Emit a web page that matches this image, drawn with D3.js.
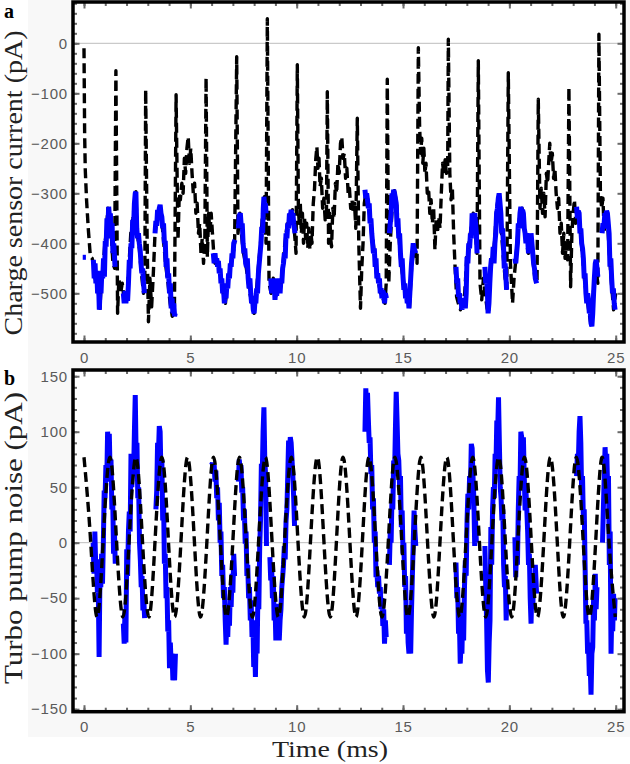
<!DOCTYPE html>
<html><head><meta charset="utf-8">
<script src="https://cdn.jsdelivr.net/npm/d3@7"></script>
<style>html,body{margin:0;padding:0;background:#fff}svg{display:block}</style>
</head><body>
<svg id="c" width="630" height="764"></svg>
<script>
// ---------- DATA ----------
const xTickLabels = [0, 5, 10, 15, 20, 25];
const topTickLabels = [0, -100, -200, -300, -400, -500];
const botTickLabels = [150, 100, 50, 0, -50, -100, -150];

// panel a: charge sensor current (pA), dashed black trace
const chargeTrace = [[0.00,-10],[0.03,-180],[0.06,-253],[0.12,-313],[0.2,-370],[0.3,-427],[0.38,-430],[0.45,-440],[0.52,-470],[0.6,-480],[0.68,-500],[0.75,-530],[0.82,-470],[0.9,-450],[0.98,-400],[1.05,-380],[1.12,-330],[1.2,-340],[1.28,-380],[1.36,-440],[1.44,-450],[1.5,-55],[1.58,-540],[1.64,-470],[1.72,-500],[1.8,-480],[1.88,-510],[1.96,-520],[2.04,-500],[2.12,-440],[2.2,-380],[2.3,-350],[2.38,-320],[2.44,-297],[2.5,-380],[2.6,-410],[2.7,-460],[2.8,-500],[2.86,-470],[2.9,-93],[2.97,-400],[3.03,-557],[3.1,-470],[3.18,-527],[3.26,-460],[3.34,-380],[3.42,-350],[3.5,-340],[3.57,-323],[3.65,-350],[3.75,-400],[3.85,-447],[3.95,-480],[4.05,-520],[4.15,-546],[4.25,-540],[4.33,-103],[4.38,-273],[4.42,-393],[4.48,-300],[4.53,-313],[4.6,-280],[4.66,-300],[4.72,-230],[4.78,-260],[4.84,-210],[4.9,-187],[4.96,-240],[5.02,-210],[5.08,-260],[5.14,-300],[5.2,-280],[5.26,-340],[5.32,-320],[5.38,-380],[5.44,-360],[5.5,-420],[5.56,-390],[5.62,-440],[5.68,-400],[5.74,-69],[5.8,-427],[5.86,-340],[5.92,-380],[5.98,-340],[6.04,-380],[6.1,-420],[6.16,-440],[6.25,-430],[6.35,-447],[6.45,-470],[6.55,-500],[6.65,-520],[6.72,-490],[6.8,-470],[6.9,-440],[7.0,-420],[7.08,-407],[7.18,-27],[7.24,-380],[7.33,-340],[7.4,-380],[7.5,-420],[7.6,-440],[7.7,-470],[7.8,-500],[7.9,-520],[8.0,-540],[8.1,-500],[8.2,-447],[8.3,-400],[8.4,-340],[8.48,-307],[8.56,-400],[8.62,49],[8.7,-480],[8.8,-500],[8.9,-470],[9.0,-510],[9.1,-490],[9.2,-500],[9.3,-470],[9.4,-420],[9.5,-380],[9.6,-350],[9.7,-340],[9.8,-333],[9.9,-380],[9.97,-420],[10.03,-43],[10.08,-330],[10.12,-360],[10.17,-320],[10.22,-380],[10.27,-340],[10.32,-400],[10.37,-350],[10.42,-390],[10.47,-360],[10.52,-410],[10.57,-370],[10.62,-413],[10.67,-380],[10.72,-400],[10.78,-320],[10.84,-290],[10.9,-230],[10.95,-207],[11.0,-250],[11.05,-230],[11.1,-287],[11.16,-270],[11.22,-330],[11.28,-310],[11.34,-353],[11.4,-340],[11.44,-97],[11.5,-400],[11.55,-340],[11.6,-390],[11.64,-407],[11.7,-330],[11.76,-350],[11.82,-280],[11.88,-300],[11.94,-240],[12.0,-260],[12.06,-200],[12.12,-187],[12.18,-230],[12.24,-220],[12.3,-270],[12.36,-250],[12.42,-300],[12.48,-290],[12.54,-330],[12.6,-313],[12.66,-340],[12.72,-320],[12.78,-370],[12.85,-150],[12.92,-400],[13.0,-530],[13.06,-450],[13.12,-400],[13.18,-320],[13.25,-300],[13.35,-313],[13.45,-350],[13.55,-380],[13.65,-420],[13.75,-460],[13.85,-480],[13.95,-500],[14.05,-510],[14.15,-520],[14.21,-480],[14.26,-72],[14.33,-480],[14.4,-400],[14.5,-320],[14.6,-295],[14.7,-320],[14.8,-380],[14.9,-440],[15.0,-470],[15.1,-500],[15.2,-510],[15.3,-530],[15.4,-450],[15.5,-410],[15.6,-420],[15.66,-440],[15.72,-9],[15.78,-167],[15.83,-220],[15.88,-190],[15.93,-240],[15.98,-210],[16.03,-260],[16.08,-240],[16.14,-300],[16.2,-290],[16.26,-340],[16.32,-313],[16.38,-360],[16.44,-330],[16.5,-413],[16.56,-350],[16.62,-380],[16.68,-347],[16.74,-370],[16.8,-300],[16.86,-240],[16.92,-260],[16.98,-233],[17.04,-260],[17.1,-250],[17.13,8],[17.2,-260],[17.26,-313],[17.32,-290],[17.38,-380],[17.45,-450],[17.52,-507],[17.6,-520],[17.7,-533],[17.8,-520],[17.9,-500],[18.0,-427],[18.1,-400],[18.2,-370],[18.3,-340],[18.4,-380],[18.48,-420],[18.54,-35],[18.62,-480],[18.7,-513],[18.78,-470],[18.86,-500],[18.95,-530],[19.02,-540],[19.1,-450],[19.2,-430],[19.3,-400],[19.4,-330],[19.52,-300],[19.6,-360],[19.7,-420],[19.8,-470],[19.88,-490],[19.95,-59],[20.05,-440],[20.15,-520],[20.22,-470],[20.3,-435],[20.4,-380],[20.5,-340],[20.6,-330],[20.7,-370],[20.8,-400],[20.9,-420],[21.0,-400],[21.1,-430],[21.2,-470],[21.3,-480],[21.36,-112],[21.44,-330],[21.5,-290],[21.56,-340],[21.62,-300],[21.68,-347],[21.74,-260],[21.8,-280],[21.86,-230],[21.9,-200],[21.96,-240],[22.02,-220],[22.08,-270],[22.14,-250],[22.2,-300],[22.26,-330],[22.32,-310],[22.38,-380],[22.44,-360],[22.5,-420],[22.56,-380],[22.62,-430],[22.68,-400],[22.74,-433],[22.8,-88],[22.88,-487],[22.94,-380],[23.0,-340],[23.06,-313],[23.12,-360],[23.18,-340],[23.25,-350],[23.35,-380],[23.45,-430],[23.55,-480],[23.65,-510],[23.75,-540],[23.85,-566],[23.95,-500],[24.05,-450],[24.12,-467],[24.16,-480],[24.21,18],[24.28,-300],[24.34,-330],[24.4,-310],[24.46,-380],[24.52,-350],[24.6,-345],[24.7,-420],[24.8,-480],[24.9,-533],[25.0,-500]];

// panel a: blue segments
const chargeBlue = [
 [[-0.06,-428],[0.09,-428]],
 [[0.44,-433],[0.48,-470],[0.52,-440],[0.56,-480],[0.6,-455],[0.64,-500],[0.68,-470],[0.72,-533],[0.76,-490],[0.8,-500],[0.84,-455],[0.88,-470],[0.92,-430],[0.96,-467],[1.0,-395],[1.04,-407],[1.08,-350],[1.12,-370],[1.16,-327],[1.2,-350],[1.24,-340],[1.28,-390],[1.32,-360],[1.36,-420],[1.4,-400],[1.46,-447]],
 [[1.85,-500],[1.89,-520],[1.93,-495],[1.97,-520],[2.01,-500],[2.05,-515],[2.09,-480],[2.13,-433],[2.17,-450],[2.21,-400],[2.25,-410],[2.29,-353],[2.33,-370],[2.37,-320],[2.41,-300],[2.44,-297],[2.48,-370],[2.52,-390],[2.56,-380],[2.6,-400],[2.64,-413],[2.68,-440],[2.72,-460],[2.76,-450],[2.8,-480],[2.84,-500]],
 [[3.34,-380],[3.38,-355],[3.42,-365],[3.46,-333],[3.5,-345],[3.54,-330],[3.58,-323],[3.62,-340],[3.66,-347],[3.7,-370],[3.74,-360],[3.78,-400],[3.82,-395],[3.86,-447],[3.9,-430],[3.94,-470],[3.98,-460],[4.02,-500],[4.06,-480],[4.1,-530],[4.14,-510],[4.18,-540],[4.22,-520],[4.26,-546],[4.29,-540]],
 [[6.08,-420],[6.12,-440],[6.16,-420],[6.2,-440],[6.24,-430],[6.28,-447],[6.32,-435],[6.36,-460],[6.4,-450],[6.44,-480],[6.48,-470],[6.52,-500],[6.56,-490],[6.6,-520],[6.64,-500],[6.68,-510],[6.72,-480],[6.76,-490],[6.8,-460],[6.84,-470],[6.88,-440],[6.92,-447],[6.96,-420],[7.0,-430],[7.04,-400],[7.1,-393]],
 [[7.26,-370],[7.3,-345],[7.35,-340],[7.4,-370],[7.44,-360],[7.48,-400],[7.52,-420],[7.56,-410],[7.6,-440],[7.64,-447],[7.68,-430],[7.72,-470],[7.76,-490],[7.8,-470],[7.84,-500],[7.88,-520],[7.92,-505],[7.96,-533],[8.0,-540],[8.04,-515],[8.08,-520],[8.12,-490],[8.16,-500],[8.2,-460],[8.24,-440],[8.28,-420],[8.32,-400],[8.36,-367],[8.4,-380],[8.43,-330],[8.46,-307],[8.5,-330],[8.53,-320],[8.56,-340]],
 [[8.78,-470],[8.82,-500],[8.86,-480],[8.9,-495],[8.94,-470],[8.98,-513],[9.02,-490],[9.06,-505],[9.1,-480],[9.14,-495],[9.18,-470],[9.22,-500],[9.26,-470],[9.3,-480],[9.34,-450],[9.38,-440],[9.42,-420],[9.46,-430],[9.5,-380],[9.54,-390],[9.58,-360],[9.62,-370],[9.66,-340],[9.7,-350],[9.74,-333],[9.78,-345],[9.82,-340],[9.86,-360],[9.92,-380]],
 [[13.21,-293],[13.25,-310],[13.29,-300],[13.33,-313],[13.37,-330],[13.41,-320],[13.45,-360],[13.49,-350],[13.53,-380],[13.57,-400],[13.61,-420],[13.65,-410],[13.69,-447],[13.73,-430],[13.77,-470],[13.81,-460],[13.85,-480],[13.89,-470],[13.93,-500],[13.97,-490],[14.01,-510],[14.05,-495],[14.09,-500],[14.13,-520],[14.17,-500],[14.22,-510]],
 [[14.36,-380],[14.4,-360],[14.44,-340],[14.48,-300],[14.52,-310],[14.56,-293],[14.6,-300],[14.64,-310],[14.68,-320],[14.72,-367],[14.76,-350],[14.8,-390],[14.84,-380],[14.88,-420],[14.92,-447],[14.96,-430],[15.0,-467],[15.04,-493],[15.08,-480],[15.12,-510],[15.16,-500],[15.2,-520],[15.24,-505],[15.28,-530],[15.32,-500],[15.36,-470],[15.4,-440],[15.44,-420],[15.48,-400],[15.52,-410],[15.6,-420]],
 [[17.49,-447],[17.53,-480],[17.57,-470],[17.61,-507],[17.65,-500],[17.69,-520],[17.73,-513],[17.77,-533],[17.81,-520],[17.85,-530],[17.89,-510],[17.93,-530],[17.97,-500],[18.01,-427],[18.05,-440],[18.09,-400],[18.13,-410],[18.17,-380],[18.21,-390],[18.25,-340],[18.29,-350],[18.33,-345],[18.37,-340],[18.41,-360],[18.45,-380],[18.48,-420]],
 [[18.85,-447],[18.89,-480],[18.93,-470],[18.97,-500],[19.0,-540],[19.04,-520],[19.08,-480],[19.12,-447],[19.16,-430],[19.2,-440],[19.24,-407],[19.28,-440],[19.32,-400],[19.36,-380],[19.4,-340],[19.44,-330],[19.48,-310],[19.52,-300],[19.56,-320],[19.6,-340],[19.64,-380],[19.68,-370],[19.72,-400],[19.76,-450],[19.8,-440],[19.84,-470],[19.87,-493]],
 [[20.26,-430],[20.3,-440],[20.34,-420],[20.38,-400],[20.42,-360],[20.46,-370],[20.5,-340],[20.54,-327],[20.58,-340],[20.62,-333],[20.66,-340],[20.7,-370],[20.74,-380],[20.78,-400],[20.82,-380],[20.86,-390],[20.9,-420],[20.94,-400],[20.98,-410],[21.02,-380],[21.06,-400],[21.1,-420],[21.14,-440],[21.18,-450],[21.22,-470],[21.28,-480]],
 [[23.16,-327],[23.2,-350],[23.24,-335],[23.28,-340],[23.32,-380],[23.36,-370],[23.4,-400],[23.44,-410],[23.48,-430],[23.52,-470],[23.56,-460],[23.6,-500],[23.64,-520],[23.68,-500],[23.72,-513],[23.76,-540],[23.8,-530],[23.84,-560],[23.88,-566],[23.92,-540],[23.96,-500],[24.0,-467],[24.04,-440],[24.08,-433],[24.12,-450],[24.16,-467]],
 [[24.36,-380],[24.4,-360],[24.44,-370],[24.49,-340],[24.53,-345],[24.57,-335],[24.61,-340],[24.65,-360],[24.69,-380],[24.73,-447],[24.77,-430],[24.81,-470],[24.85,-500],[24.89,-490],[24.93,-520],[24.97,-533]]
];

// panel b: turbo pump noise fit (dashed), read at peaks / crossings / troughs
const pumpFit = [[0,77],[0.30,5],[0.61,-67],[0.91,5],[1.22,77],[1.52,5],[1.83,-67],[2.13,5],[2.44,77],[2.74,5],[3.05,-67],[3.35,5],[3.66,77],[3.96,5],[4.26,-67],[4.57,5],[4.87,77],[5.18,5],[5.48,-67],[5.79,5],[6.09,77],[6.40,5],[6.70,-67],[7.01,5],[7.31,77],[7.62,5],[7.92,-67],[8.22,5],[8.53,77],[8.83,5],[9.14,-67],[9.44,5],[9.75,77],[10.05,5],[10.36,-67],[10.66,5],[10.97,77],[11.27,5],[11.58,-67],[11.88,5],[12.18,77],[12.49,5],[12.79,-67],[13.10,5],[13.40,77],[13.71,5],[14.01,-67],[14.32,5],[14.62,77],[14.93,5],[15.23,-67],[15.54,5],[15.84,77],[16.14,5],[16.45,-67],[16.75,5],[17.06,77],[17.36,5],[17.67,-67],[17.97,5],[18.28,77],[18.58,5],[18.89,-67],[19.19,5],[19.50,77],[19.80,5],[20.11,-67],[20.41,5],[20.71,77],[21.02,5],[21.32,-67],[21.63,5],[21.93,77],[22.24,5],[22.54,-67],[22.85,5],[23.15,77],[23.46,5],[23.76,-67],[24.07,5],[24.37,77],[24.67,5],[24.98,-67]];

// panel b: measured noise, blue segments
const pumpBlue = [
 [[0.43,0],[0.47,-28],[0.51,10],[0.55,-20],[0.59,-15],[0.63,-45],[0.67,-40],[0.71,-103],[0.75,-30],[0.79,-40],[0.83,-10],[0.87,-37],[0.91,0],[0.95,47],[0.99,40],[1.03,70],[1.07,55],[1.11,100],[1.15,85],[1.19,98],[1.23,60],[1.27,75],[1.31,30],[1.35,40],[1.39,-10],[1.43,10],[1.47,-19]],
 [[1.85,-73],[1.89,-91],[1.93,-60],[1.97,-90],[2.01,-6],[2.05,-30],[2.09,10],[2.13,28],[2.17,10],[2.21,80],[2.25,50],[2.29,80],[2.33,60],[2.37,100],[2.41,133],[2.45,80],[2.49,90],[2.53,40],[2.57,50],[2.61,0],[2.65,-16],[2.69,-40],[2.73,-30],[2.77,-61],[2.81,-50],[2.85,-68]],
 [[3.38,30],[3.42,47],[3.46,90],[3.5,80],[3.54,105],[3.58,100],[3.62,60],[3.66,75],[3.7,20],[3.74,40],[3.78,-19],[3.82,-10],[3.86,-50],[3.9,-40],[3.94,-80],[3.98,-70],[4.02,-113],[4.06,-90],[4.1,-110],[4.14,-100],[4.18,-124],[4.22,-110],[4.26,-124],[4.3,-100]],
 [[6.0,70],[6.04,72],[6.08,62],[6.12,70],[6.16,55],[6.2,65],[6.24,40],[6.28,50],[6.32,20],[6.36,36],[6.4,0],[6.44,10],[6.48,-30],[6.52,-20],[6.56,-50],[6.6,-40],[6.64,-70],[6.68,-92],[6.72,-60],[6.76,-85],[6.8,-55],[6.84,-75],[6.88,-40],[6.92,-58],[6.96,-28],[7.0,-45],[7.04,-10],[7.08,-30]],
 [[7.26,55],[7.3,75],[7.34,65],[7.38,70],[7.42,45],[7.46,50],[7.5,20],[7.54,30],[7.58,-1],[7.62,10],[7.66,-30],[7.7,-20],[7.74,-50],[7.78,-40],[7.82,-70],[7.86,-52],[7.9,-85],[7.94,-70],[7.98,-112],[8.02,-90],[8.06,-121],[8.1,-80],[8.14,-100],[8.18,-40],[8.22,-60],[8.26,-5],[8.3,20],[8.34,71],[8.38,60],[8.42,100],[8.46,122],[8.5,75],[8.54,60],[8.58,-3]],
 [[8.74,-13],[8.78,-34],[8.82,-20],[8.86,-50],[8.9,-30],[8.94,-70],[8.98,-55],[9.02,-88],[9.06,-60],[9.1,-80],[9.14,-55],[9.18,-88],[9.22,-70],[9.26,-60],[9.3,-40],[9.34,-31],[9.38,-20],[9.42,-3],[9.46,-15],[9.5,20],[9.54,30],[9.58,60],[9.62,92],[9.66,80],[9.7,95],[9.74,90],[9.78,75],[9.82,60],[9.86,40],[9.9,15]],
 [[13.21,100],[13.25,139],[13.29,120],[13.33,135],[13.37,111],[13.41,90],[13.45,95],[13.49,62],[13.53,70],[13.57,30],[13.61,40],[13.65,0],[13.69,10],[13.73,-31],[13.77,-25],[13.81,-40],[13.85,-30],[13.89,-46],[13.93,-40],[13.97,-60],[14.01,-50],[14.05,-75],[14.09,-60],[14.13,-91],[14.17,-70],[14.21,-85]],
 [[14.36,-20],[14.4,10],[14.44,0],[14.48,40],[14.52,30],[14.56,74],[14.6,60],[14.64,100],[14.68,136],[14.72,110],[14.76,80],[14.8,74],[14.84,50],[14.88,60],[14.92,14],[14.96,29],[15.0,-10],[15.04,0],[15.08,-40],[15.12,-30],[15.16,-82],[15.2,-60],[15.24,-90],[15.28,-100],[15.32,-80],[15.36,-100],[15.4,-60],[15.44,-30],[15.48,0],[15.52,29],[15.56,10],[15.6,-3]],
 [[17.49,-18],[17.53,-50],[17.57,-40],[17.61,-82],[17.65,-70],[17.69,-109],[17.73,-90],[17.77,-100],[17.81,-60],[17.85,-88],[17.89,-40],[17.93,-16],[17.97,-30],[18.01,20],[18.05,44],[18.09,30],[18.13,60],[18.17,50],[18.21,89],[18.25,85],[18.29,60],[18.33,40],[18.37,-3],[18.41,20],[18.45,0]],
 [[18.85,-3],[18.89,-40],[18.93,-70],[18.97,-115],[19.01,-126],[19.05,-90],[19.09,-70],[19.13,14],[19.17,-20],[19.21,30],[19.25,50],[19.29,40],[19.33,80],[19.37,70],[19.41,110],[19.45,100],[19.49,131],[19.53,90],[19.57,50],[19.61,40],[19.65,20],[19.69,30],[19.73,-20],[19.77,-40],[19.81,-30],[19.85,-70],[19.87,-55]],
 [[20.26,5],[20.3,-31],[20.34,0],[20.38,-20],[20.42,30],[20.46,60],[20.5,50],[20.54,100],[20.58,95],[20.62,80],[20.66,95],[20.7,60],[20.74,29],[20.78,47],[20.82,30],[20.86,10],[20.9,-20],[20.94,-10],[20.98,-50],[21.02,-73],[21.06,-40],[21.1,-60],[21.14,-30],[21.18,-46],[21.22,-20],[21.28,-46]],
 [[23.16,60],[23.2,80],[23.24,70],[23.28,100],[23.32,114],[23.36,90],[23.4,44],[23.44,60],[23.48,20],[23.52,30],[23.56,-20],[23.6,-73],[23.64,-70],[23.68,-100],[23.72,-90],[23.76,-120],[23.8,-110],[23.84,-137],[23.88,-100],[23.92,-94],[23.96,-50],[24.0,-70],[24.04,-28],[24.08,-60],[24.12,-40]],
 [[24.38,0],[24.42,30],[24.46,60],[24.5,86],[24.54,70],[24.58,80],[24.62,50],[24.66,60],[24.7,-20],[24.74,10],[24.78,-100],[24.82,-60],[24.86,-80],[24.9,-46],[24.94,-70],[24.97,-50]]
];

// ---------- DRAW ----------
const svg = d3.select("#c");
const fmt = d => (d < 0 ? "\u2212" + Math.abs(d) : String(d));
const L = 73, R = 624;
const x = d3.scaleLinear().domain([-0.517, 25.39]).range([L, R]);
const panels = [
  {key:"a", top:2, bottom:342, y:d3.scaleLinear().domain([-597.4, 82.6]).range([342, 2]),
   labels: topTickLabels, minor: d3.range(-580, 81, 20), major: d3.range(-500, 1, 100),
   title: "Charge sensor current (pA)", titleY: 183, titleLen: 305, xLabBase: 363},
  {key:"b", top:370, bottom:711.7, y:d3.scaleLinear().domain([-152.3, 155.6]).range([711.7, 370]),
   labels: botTickLabels, minor: d3.range(-150, 151, 10), major: d3.range(-150, 151, 50),
   title: "Turbo pump noise (pA)", titleY: 538, titleLen: 292, xLabBase: 732}
];

svg.append("rect").attr("x", 28).attr("y", 0).attr("width", 602).attr("height", 737).attr("fill", "#f8f8f8");

panels.forEach((p, i) => {
  const y = p.y;
  const g = svg.append("g");
  const cid = "clip" + i;
  svg.append("clipPath").attr("id", cid).append("rect")
    .attr("x", L).attr("y", p.top).attr("width", R - L).attr("height", p.bottom - p.top);
  g.append("rect").attr("x", L).attr("y", p.top).attr("width", R - L).attr("height", p.bottom - p.top).attr("fill", "#fff");
  const plot = g.append("g").attr("clip-path", `url(#${cid})`);
  plot.append("line").attr("x1", L).attr("x2", R).attr("y1", y(0)).attr("y2", y(0))
    .attr("stroke", "#bdbdbd").attr("stroke-width", 1);

  const line = d3.line().x(d => x(d[0])).y(d => y(d[1]));
  const drawBlue = segs => segs.forEach(s => plot.append("path").attr("d", line.curve(d3.curveLinear)(s))
      .attr("fill", "none").attr("stroke", "#0000ff").attr("stroke-width", 5)
      .attr("stroke-linejoin", "miter").attr("stroke-miterlimit", 2));
  const drawDash = (data, curve) => plot.append("path").attr("d", line.curve(curve)(data))
      .attr("fill", "none").attr("stroke", "#000").attr("stroke-width", 3.4)
      .attr("stroke-dasharray", "10,5").attr("stroke-linejoin", "round");

  if (p.key === "a") {
    drawDash(chargeTrace, d3.curveLinear);
    drawBlue(chargeBlue);
  } else {
    drawBlue(pumpBlue);
    drawDash(pumpFit, d3.curveNatural);
  }

  // inner ticks (minor + major) on all four sides
  const tickStyle = sel => { sel.select(".domain").remove();
    sel.selectAll("line").attr("stroke", "#6a6a6a").attr("stroke-width", 2); };
  const minorX = d3.range(0, 26, 1);
  const majorX = xTickLabels;
  g.append("g").attr("transform", `translate(0,${p.bottom})`)
    .call(d3.axisTop(x).tickValues(minorX).tickSize(4).tickFormat("")).call(tickStyle);
  g.append("g").attr("transform", `translate(0,${p.bottom})`)
    .call(d3.axisTop(x).tickValues(majorX).tickSize(6.5).tickFormat("")).call(tickStyle);
  g.append("g").attr("transform", `translate(0,${p.top})`)
    .call(d3.axisBottom(x).tickValues(minorX).tickSize(4).tickFormat("")).call(tickStyle);
  g.append("g").attr("transform", `translate(0,${p.top})`)
    .call(d3.axisBottom(x).tickValues(majorX).tickSize(6.5).tickFormat("")).call(tickStyle);
  g.append("g").attr("transform", `translate(${L},0)`)
    .call(d3.axisRight(y).tickValues(p.minor).tickSize(4).tickFormat("")).call(tickStyle);
  g.append("g").attr("transform", `translate(${L},0)`)
    .call(d3.axisRight(y).tickValues(p.major).tickSize(6.5).tickFormat("")).call(tickStyle);
  g.append("g").attr("transform", `translate(${R},0)`)
    .call(d3.axisLeft(y).tickValues(p.minor).tickSize(4).tickFormat("")).call(tickStyle);
  g.append("g").attr("transform", `translate(${R},0)`)
    .call(d3.axisLeft(y).tickValues(p.major).tickSize(6.5).tickFormat("")).call(tickStyle);

  // frame
  g.append("rect").attr("x", L).attr("y", p.top).attr("width", R - L).attr("height", p.bottom - p.top)
    .attr("fill", "none").attr("stroke", "#000").attr("stroke-width", 3.5);

  // tick labels
  const labStyle = sel => { sel.select(".domain").remove(); sel.selectAll("line").remove();
    sel.selectAll("text").attr("fill", "#5a5a5a").style("font-family", "'Liberation Sans', Arial, sans-serif")
      .style("font-size", "15px").style("letter-spacing", "0.8px"); };
  g.append("g").attr("transform", `translate(0,${p.bottom})`)
    .call(d3.axisBottom(x).tickValues(xTickLabels).tickSize(0).tickPadding(p.xLabBase - p.bottom - 10.6).tickFormat(fmt))
    .call(labStyle);
  g.append("g").attr("transform", `translate(${L},0)`)
    .call(d3.axisLeft(y).tickValues(p.labels).tickSize(0).tickPadding(5).tickFormat(fmt))
    .call(labStyle);

  // axis title
  svg.append("text").attr("transform", `translate(22,${p.titleY}) rotate(-90)`)
    .attr("text-anchor", "middle").attr("textLength", p.titleLen).attr("lengthAdjust", "spacingAndGlyphs")
    .style("font-family", "'Liberation Serif', 'Times New Roman', serif").style("font-size", "25px")
    .attr("fill", "#222").text(p.title);

  // panel letter
  svg.append("text").attr("x", 4).attr("y", p.key === "a" ? 18 : 385)
    .style("font-family", "'Liberation Serif', serif").style("font-weight", "bold").style("font-size", "20px")
    .attr("fill", "#000").text(p.key);
});

svg.append("text").attr("x", 330).attr("y", 757).attr("text-anchor", "middle")
  .attr("textLength", 116).attr("lengthAdjust", "spacingAndGlyphs")
  .style("font-family", "'Liberation Serif', 'Times New Roman', serif").style("font-size", "23px")
  .attr("fill", "#222").text("Time (ms)");
</script>
</body></html>
